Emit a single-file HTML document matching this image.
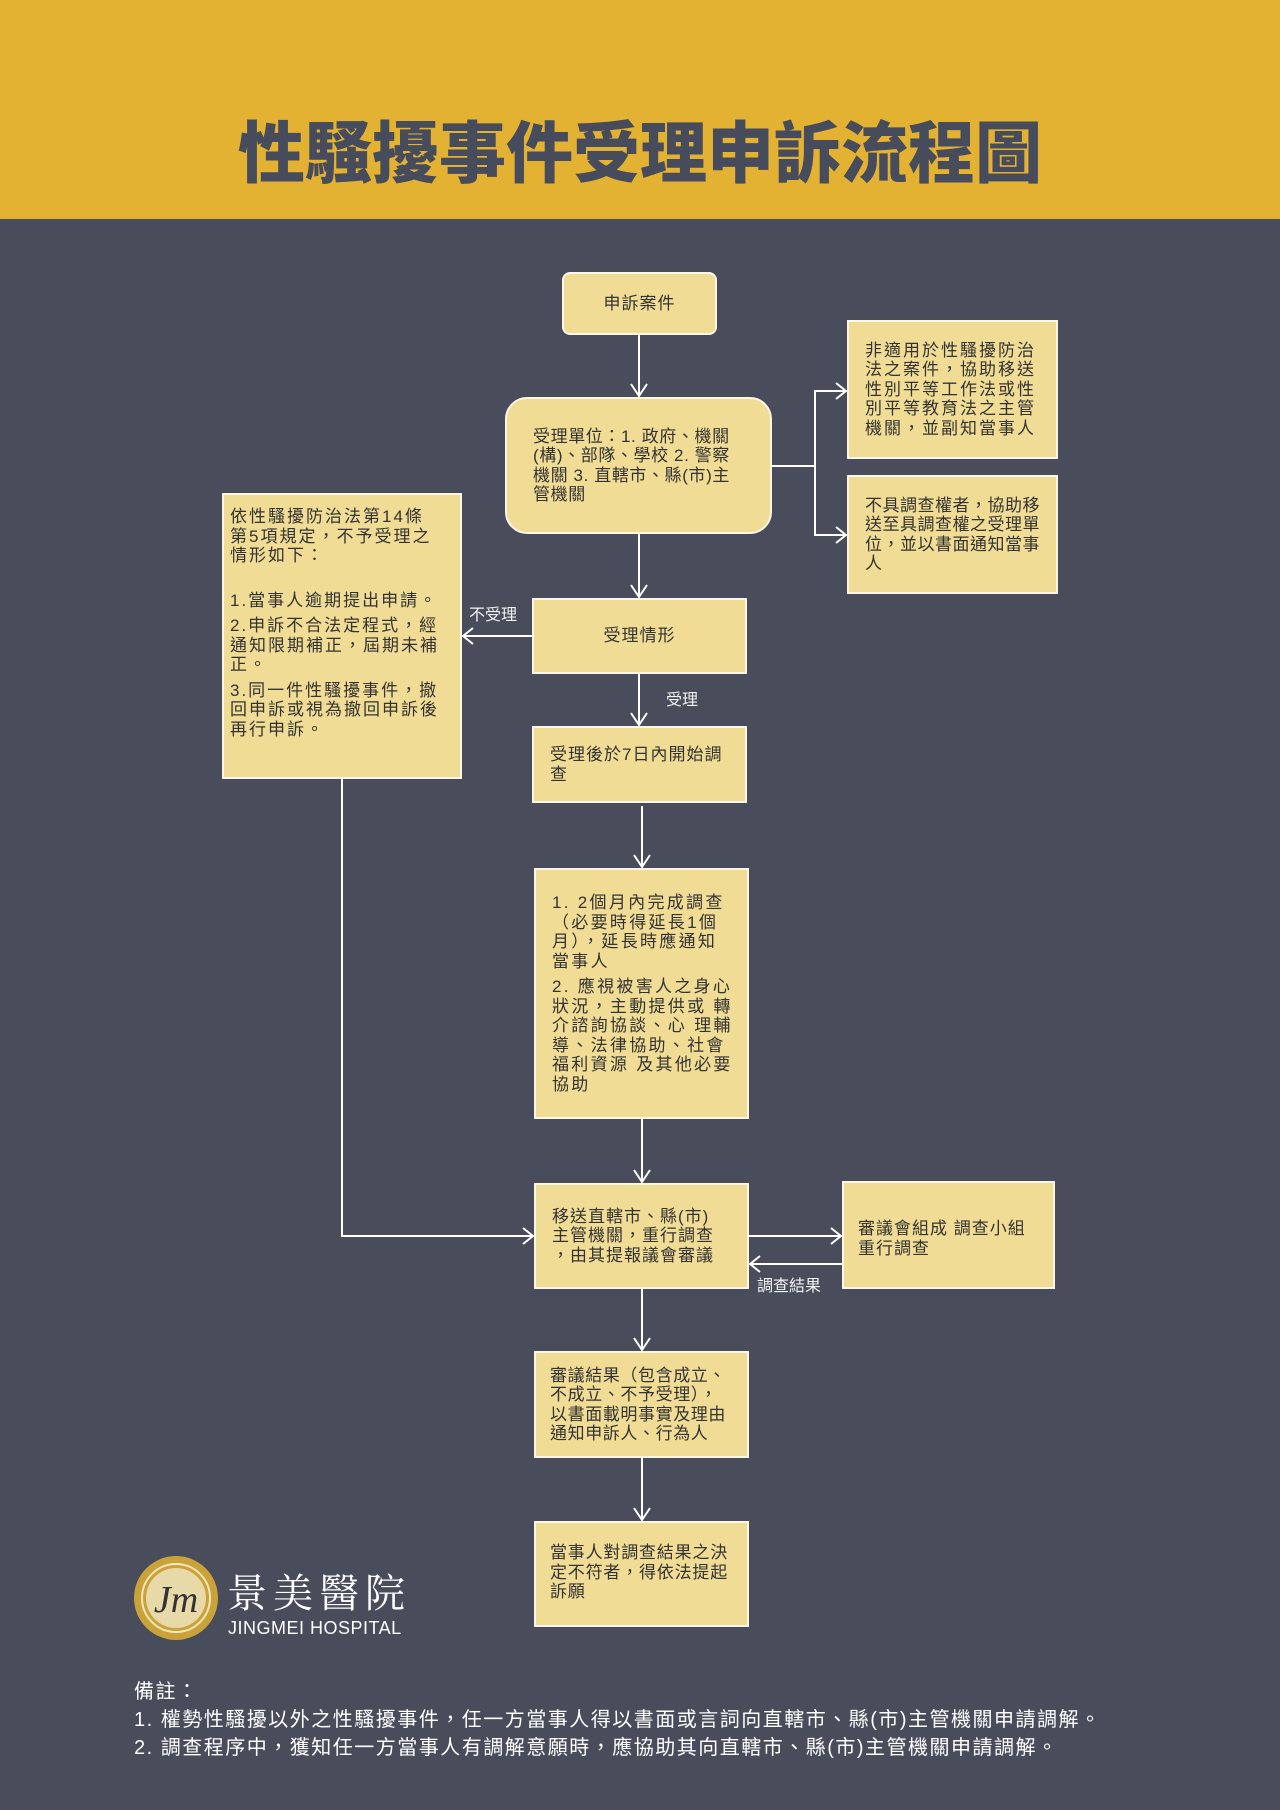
<!DOCTYPE html>
<html><head><meta charset="utf-8"><style>
*{margin:0;padding:0;box-sizing:border-box}
body{width:1280px;height:1810px;background:#484c5b;position:relative;overflow:hidden;font-family:"Liberation Sans","Noto Sans CJK TC",sans-serif}
.top{position:absolute;left:0;top:0;width:1280px;height:219px;background:#e3b232}
.title{position:absolute;left:0;width:1280px;top:104px;text-align:center;font-size:67px;font-weight:900;color:#474c5c;line-height:90px;font-family:"Noto Sans CJK TC",sans-serif}
.b{position:absolute;background:#f0dc94;border:2px solid #fbf6e6;color:#333;font-size:17px;line-height:19.5px;padding:0 14px;display:flex;flex-direction:column;justify-content:center;letter-spacing:1px}
.n{white-space:nowrap}
.c{text-align:center}
.l{position:absolute;color:#f3f3f3;font-size:16px}
p{margin-bottom:6px}
</style></head><body>
<div class="top"></div>
<div class="title">性騷擾事件受理申訴流程圖</div>
<svg width="1280" height="1810" style="position:absolute;left:0;top:0" fill="none" stroke="#fff" stroke-width="2">
<path d="M639 335V396M631 384l8 12 8-12"/>
<path d="M639 534V597M631 585l8 12 8-12"/>
<path d="M772 466H815V391H846M815 466V535H846M836 383l10 8-10 8M836 527l10 8-10 8"/>
<path d="M532 636H463M473 628l-10 8 10 8"/>
<path d="M639 674V725M631 713l8 12 8-12"/>
<path d="M642 806V867M634 855l8 12 8-12"/>
<path d="M342 779V1236H533M523 1228l10 8-10 8"/>
<path d="M642 1119V1182M634 1170l8 12 8-12"/>
<path d="M749 1236H841M831 1228l10 8-10 8"/>
<path d="M842 1264H750M760 1256l-10 8 10 8"/>
<path d="M642 1289V1350M634 1338l8 12 8-12"/>
<path d="M642 1458V1520M634 1508l8 12 8-12"/>
</svg>
<div class="b c" style="left:562px;top:272px;width:155px;height:63px;border-radius:8px">申訴案件</div>
<div class="b n" style="left:505px;top:397px;width:267px;height:137px;border-radius:22px;padding:0 0 0 26px;letter-spacing:0.6px">受理單位：1. 政府、機關<br>(構)、部隊、學校 2. 警察<br>機關 3. 直轄市、縣(市)主<br>管機關</div>
<div class="b" style="left:847px;top:320px;width:211px;height:139px;letter-spacing:2px;padding:0 16px">非適用於性騷擾防治法之案件，協助移送性別平等工作法或性別平等教育法之主管機關，並副知當事人</div>
<div class="b" style="left:847px;top:475px;width:211px;height:119px;padding:0 10px 0 16px;letter-spacing:0.5px">不具調查權者，協助移送至具調查權之受理單位，並以書面通知當事人</div>
<div class="b" style="left:222px;top:493px;width:240px;height:286px;justify-content:flex-start;padding:12px 20px 12px 6px;letter-spacing:2px"><p>依性騷擾防治法第14條第5項規定，不予受理之情形如下：</p><p style="margin-top:19px">1.當事人逾期提出申請。</p><p>2.申訴不合法定程式，經通知限期補正，屆期未補正。</p><p>3.同一件性騷擾事件，撤回申訴或視為撤回申訴後再行申訴。</p></div>
<div class="b c" style="left:532px;top:598px;width:215px;height:76px">受理情形</div>
<div class="b" style="left:532px;top:726px;width:215px;height:77px;padding:0 14px 0 16px">受理後於7日內開始調查</div>
<div class="b" style="left:534px;top:868px;width:215px;height:251px;letter-spacing:2.3px;padding:0 14px 0 16px"><p>1. 2個月內完成調查（必要時得延長1個月），延長時應通知當事人</p><p style="margin:0">2. 應視被害人之身心狀況，主動提供或 轉介諮詢協談、心 理輔導、法律協助、社會福利資源 及其他必要協助</p></div>
<div class="b n" style="left:534px;top:1183px;width:215px;height:106px;padding:0 0 0 16px">移送直轄市、縣(市)<br>主管機關，重行調查<br>，由其提報議會審議</div>
<div class="b" style="left:842px;top:1181px;width:213px;height:108px;justify-content:flex-start;padding-top:36px">審議會組成 調查小組重行調查</div>
<div class="b" style="left:534px;top:1351px;width:215px;height:107px;padding:0 12px 0 14px;letter-spacing:0.6px">審議結果（包含成立、不成立、不予受理），以書面載明事實及理由通知申訴人、行為人</div>
<div class="b" style="left:534px;top:1521px;width:215px;height:106px;justify-content:flex-start;padding:20px 12px 0 14px;letter-spacing:0.8px">當事人對調查結果之決定不符者，得依法提起訴願</div>
<div class="l" style="left:469px;top:601px">不受理</div>
<div class="l" style="left:666px;top:686px">受理</div>
<div class="l" style="left:757px;top:1272px">調查結果</div>
<svg width="100" height="100" style="position:absolute;left:128px;top:1550px">
<circle cx="48" cy="48" r="42" fill="#c9a23a"/>
<circle cx="48" cy="48" r="34" fill="none" stroke="#f3e6b8" stroke-width="2"/>
<circle cx="48" cy="48" r="30" fill="#e8d9a8"/>
<text x="48" y="62" font-size="38" font-style="italic" font-family="Liberation Serif" fill="#333" text-anchor="middle">Jm</text>
</svg>
<div style="position:absolute;left:227px;top:1568px;font-size:40px;color:#fff;letter-spacing:6px;font-family:'Noto Serif CJK SC',serif;line-height:46px">景美醫院</div>
<div style="position:absolute;left:228px;top:1618px;font-size:18px;color:#fff;letter-spacing:0.5px">JINGMEI HOSPITAL</div>
<div style="position:absolute;left:134px;top:1678px;font-size:20px;color:#fff;line-height:28px;letter-spacing:1.5px">備註：<br>1. 權勢性騷擾以外之性騷擾事件，任一方當事人得以書面或言詞向直轄市、縣(市)主管機關申請調解。<br>2. 調查程序中，獲知任一方當事人有調解意願時，應協助其向直轄市、縣(市)主管機關申請調解。</div>
</body></html>
